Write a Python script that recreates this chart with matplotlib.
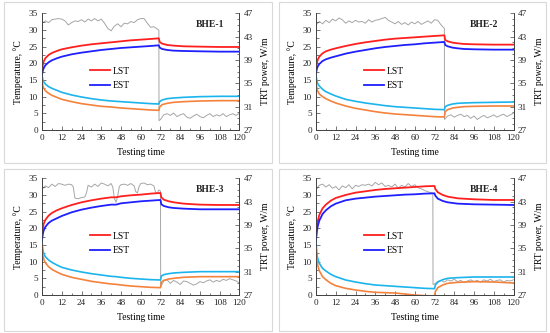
import matplotlib
matplotlib.use("Agg")
import matplotlib.pyplot as plt
from matplotlib.patches import Rectangle
from matplotlib.ticker import MultipleLocator

plt.rcParams['font.family'] = ['Liberation Serif', 'DejaVu Serif']

# ---------------- data ----------------
panel_names = ["BHE-1", "BHE-2", "BHE-3", "BHE-4"]
x_ticks = [0, 12, 24, 36, 48, 60, 72, 84, 96, 108, 120]
power_ticks = [27, 31, 35, 39, 43, 47]

# Panel 1
t_1 = [0, 0.5, 1, 2, 4, 6, 9, 12, 18, 24, 30, 36, 42, 48, 54, 60, 66, 71, 71.5, 73, 76, 80, 86, 96, 108, 120]
lst_1 = [17.0, 19.5, 20.5, 21.5, 22.5, 23.1, 23.7, 24.2, 24.8, 25.3, 25.7, 26.0, 26.3, 26.6, 26.9, 27.1, 27.3, 27.5, 26.4, 25.9, 25.5, 25.3, 25.1, 25.0, 24.9, 24.9]
est_1 = [16.5, 17.8, 18.5, 19.4, 20.3, 20.9, 21.5, 22.0, 22.7, 23.2, 23.6, 24.0, 24.3, 24.6, 24.8, 25.0, 25.2, 25.4, 24.7, 24.3, 24.0, 23.8, 23.7, 23.6, 23.5, 23.5]
cool_est_1 = [16.5, 15.0, 14.5, 13.8, 13.0, 12.5, 11.9, 11.3, 10.5, 9.9, 9.4, 9.0, 8.7, 8.5, 8.3, 8.1, 7.9, 7.8, 8.5, 9.0, 9.4, 9.6, 9.8, 10.0, 10.1, 10.1]
cool_lst_1 = [15.0, 13.3, 12.6, 11.8, 11.0, 10.4, 9.8, 9.2, 8.5, 7.9, 7.5, 7.1, 6.9, 6.6, 6.4, 6.2, 6.0, 5.9, 6.9, 7.6, 8.0, 8.3, 8.5, 8.7, 8.8, 8.8]
pw_t_1 = [0, 2, 4, 6, 8, 10, 12, 14, 16, 18, 20, 22, 24, 26, 28, 30, 32, 34, 36, 38, 40, 42, 44, 46, 48, 50,
          52, 54, 56, 58, 60, 62, 64, 66, 68, 70, 71, 71.1, 72, 74, 76, 78, 80, 82, 84, 86, 88, 90, 92, 94, 96,
          98, 100, 102, 104, 106, 108, 110, 112, 114, 116, 118, 120]
pw_1 = [45.3, 45.7, 45.4, 45.9, 46.0, 46.1, 46.0, 45.7, 45.0, 45.4, 45.7, 45.6, 45.9, 45.5, 46.0, 45.7, 46.1, 45.7,
        46.0, 45.3, 44.4, 44.0, 44.8, 45.2, 44.7, 45.3, 45.2, 45.6, 45.4, 45.9, 46.1, 46.1, 45.3, 44.6, 44.7, 44.3, 44.1,
        28.6, 28.8, 29.6, 29.8, 29.5, 29.9, 29.3, 29.6, 29.8, 29.2, 29.0, 29.4, 29.7, 29.3, 29.1, 29.5, 29.8, 29.3,
        29.6, 29.4, 29.8, 29.3, 29.6, 29.8, 29.5, 29.9]

# Panel 2
t_2 = [0, 0.5, 1, 2, 4, 6, 9, 12, 18, 24, 30, 36, 42, 48, 54, 60, 66, 72, 78, 78.5, 80, 83, 86, 90, 96, 108, 120]
lst_2 = [17.5, 20.0, 21.0, 22.0, 23.0, 23.6, 24.1, 24.5, 25.2, 25.8, 26.3, 26.7, 27.1, 27.4, 27.6, 27.8, 28.0, 28.2, 28.4, 27.0, 26.6, 26.2, 26.0, 25.8, 25.7, 25.6, 25.6]
est_2 = [17.0, 18.3, 19.0, 19.8, 20.7, 21.2, 21.7, 22.1, 22.9, 23.5, 24.0, 24.5, 24.9, 25.2, 25.5, 25.7, 26.0, 26.2, 26.4, 25.5, 25.1, 24.7, 24.5, 24.3, 24.2, 24.1, 24.1]
cool_est_2 = [16.5, 14.8, 14.0, 13.2, 12.2, 11.5, 10.8, 10.2, 9.2, 8.6, 8.1, 7.7, 7.3, 7.0, 6.8, 6.6, 6.4, 6.2, 6.1, 7.0, 7.4, 7.8, 8.0, 8.1, 8.2, 8.3, 8.4]
cool_lst_2 = [14.5, 12.5, 11.7, 10.8, 10.0, 9.4, 8.7, 8.1, 7.2, 6.5, 6.0, 5.5, 5.1, 4.8, 4.6, 4.4, 4.2, 4.0, 3.9, 5.5, 6.1, 6.6, 6.8, 7.0, 7.1, 7.2, 7.2]
pw_t_2 = [0, 2, 4, 6, 8, 10, 12, 14, 16, 18, 20, 22, 24, 26, 28, 30, 32, 34, 36, 38, 40, 42, 44, 46, 48, 50,
          52, 54, 56, 58, 60, 62, 64, 66, 68, 70, 72, 74, 76, 78, 78.1, 80, 82, 84, 86, 88, 90, 92, 94, 96,
          98, 100, 102, 104, 106, 108, 110, 112, 114, 116, 118, 120]
pw_2 = [45.0, 45.6, 45.2, 45.8, 45.4, 46.0, 45.7, 46.2, 45.9, 45.3, 45.7, 45.4, 45.8, 45.5, 45.6, 45.3, 45.9, 45.5,
        45.8, 45.9, 46.1, 46.3, 45.8, 45.5, 45.2, 45.6, 45.1, 45.4, 45.0, 45.5, 45.2, 45.6, 45.1, 45.4, 45.7, 45.3,
        45.9, 45.8, 45.0, 44.4,
        28.8, 29.4, 29.6, 29.2, 29.5, 29.7, 29.3, 29.5, 29.0, 29.4, 28.8, 29.2, 29.5, 29.1, 29.3, 29.6, 29.2, 29.5,
        29.7, 29.3, 29.6, 29.9]

# Panel 3
t_3 = [0, 0.5, 1, 2, 4, 6, 9, 12, 18, 24, 30, 36, 42, 45, 48, 54, 60, 66, 72, 72.5, 74, 77, 80, 86, 96, 108, 120]
lst_3 = [17.0, 20.0, 21.3, 22.5, 23.8, 24.6, 25.4, 26.0, 27.0, 27.8, 28.4, 28.9, 29.3, 29.3, 29.6, 29.9, 30.1, 30.4, 30.6, 29.3, 28.6, 28.1, 27.8, 27.4, 27.1, 27.0, 27.0]
est_3 = [16.5, 18.3, 19.3, 20.4, 21.6, 22.3, 23.0, 23.7, 24.8, 25.6, 26.2, 26.7, 27.1, 27.1, 27.5, 27.8, 28.1, 28.3, 28.5, 27.2, 26.7, 26.3, 26.1, 25.9, 25.7, 25.7, 25.7]
cool_est_3 = [16.0, 13.5, 12.5, 11.5, 10.5, 9.8, 9.0, 8.3, 7.5, 6.9, 6.4, 6.0, 5.6, 5.5, 5.3, 5.0, 4.8, 4.6, 4.5, 5.7, 6.1, 6.4, 6.6, 6.8, 7.0, 7.0, 7.0]
cool_lst_3 = [15.0, 12.0, 10.8, 9.7, 8.5, 7.7, 6.9, 6.2, 5.3, 4.7, 4.1, 3.7, 3.3, 3.2, 3.0, 2.7, 2.5, 2.3, 2.2, 3.8, 4.4, 4.8, 5.0, 5.3, 5.5, 5.5, 5.5]
pw_t_3 = [0, 2, 4, 6, 8, 10, 12, 14, 16, 18, 19, 20, 22, 24, 26, 27, 28, 30, 32, 34, 36, 38, 40, 42, 43, 44,
          45, 46, 47, 48, 50, 52, 54, 56, 57, 58, 59, 60, 62, 64, 66, 68, 69, 70, 71, 72,
          72.1, 74, 76, 78, 80, 82, 84, 86, 88, 90, 92, 94, 96, 98, 100, 102, 104, 106, 108, 110, 112, 114,
          116, 118, 120]
pw_3 = [45.1, 45.7, 45.4, 46.0, 45.6, 46.1, 46.0, 45.8, 46.0, 45.9, 45.5, 43.6, 43.5, 43.7, 43.8, 44.5, 45.8,
        45.5, 46.0, 45.6, 46.2, 46.0, 45.7, 46.1, 45.5, 43.5, 42.9, 44.0, 45.6, 45.9, 46.0, 45.8, 46.1, 45.7,
        44.7, 44.5, 45.6, 46.1, 46.2, 45.9, 46.0, 45.7, 44.6, 44.4, 45.0, 44.8,
        28.4, 29.4, 29.6, 29.0, 29.5, 29.2, 28.8, 29.4, 29.3, 29.0, 28.7, 28.9, 29.3, 29.1, 29.4, 29.6, 29.2,
        29.5, 29.3, 29.7, 29.5, 29.8, 29.6, 29.4, 29.0]

# Panel 4
t_4 = [0, 0.5, 1, 2, 4, 6, 9, 12, 18, 24, 30, 36, 42, 48, 54, 60, 66, 72, 72.5, 74, 77, 80, 86, 96, 108, 120]
lst_4 = [17.0, 20.5, 22.0, 24.0, 26.0, 27.1, 28.3, 29.1, 30.0, 30.7, 31.1, 31.5, 31.8, 32.0, 32.2, 32.4, 32.6, 32.7, 31.8, 30.8, 30.0, 29.5, 29.0, 28.7, 28.5, 28.5]
est_4 = [16.5, 19.0, 20.5, 22.3, 24.3, 25.4, 26.6, 27.4, 28.4, 28.9, 29.2, 29.5, 29.7, 29.9, 30.1, 30.2, 30.4, 30.5, 29.8, 28.9, 28.2, 27.8, 27.4, 27.2, 27.1, 27.0]
cool_est_4 = [16.0, 12.5, 11.0, 9.5, 8.0, 7.2, 6.2, 5.5, 4.5, 3.9, 3.4, 3.0, 2.8, 2.6, 2.4, 2.2, 2.0, 1.9, 3.0, 3.9, 4.6, 5.0, 5.2, 5.4, 5.4, 5.4]
cool_lst_4 = [14.0, 10.5, 9.0, 7.3, 5.5, 4.6, 3.5, 2.8, 2.0, 1.5, 1.1, 0.8, 0.7, 0.6, 0.3, 0.0, -0.2, -0.3, 1.0, 2.2, 3.0, 3.5, 3.8, 4.0, 3.9, 3.6]
pw_t_4 = [0, 2, 4, 6, 8, 10, 12, 14, 16, 18, 20, 22, 24, 26, 28, 30, 32, 34, 36, 38, 40, 42, 44, 46, 48, 50,
          52, 54, 56, 58, 60, 62, 64, 66, 68, 70, 71, 71.1, 72, 74, 76, 78, 80, 82, 84, 86, 88, 90, 92, 94, 96,
          98, 100, 102, 104, 106, 108, 110, 112, 114, 116, 118, 120]
pw_4 = [45.0, 45.8, 46.0, 45.5, 45.9, 45.3, 45.6, 45.0, 45.7, 45.4, 45.9, 45.2, 45.8, 45.6, 45.9, 45.8, 46.0, 45.7,
        46.3, 45.9, 46.2, 45.6, 45.8, 45.5, 46.0, 45.3, 45.8, 45.5, 46.1, 45.6, 45.9, 45.4, 45.2, 44.9, 44.7, 44.5, 44.4,
        28.8, 28.9, 29.3, 29.5, 29.2, 29.6, 29.4, 29.7, 29.3, 29.5, 29.1, 29.4, 29.6, 29.3, 29.5, 29.2, 29.6, 29.4,
        29.7, 29.3, 29.5, 29.6, 29.2, 29.5, 29.4, 29.6]

panels = [
    (t_1, lst_1, est_1, cool_est_1, cool_lst_1, pw_t_1, pw_1),
    (t_2, lst_2, est_2, cool_est_2, cool_lst_2, pw_t_2, pw_2),
    (t_3, lst_3, est_3, cool_est_3, cool_lst_3, pw_t_3, pw_3),
    (t_4, lst_4, est_4, cool_est_4, cool_lst_4, pw_t_4, pw_4),
]

# ---------------- figure ----------------
W, H = 550, 333
fig = plt.figure(figsize=(W / 100, H / 100), dpi=100)

# panel frames (pixel boxes)
frames = [(4, 2, 268, 161), (279, 2, 267, 161), (4, 169, 268, 162), (279, 169, 267, 162)]
for (fx, fy, fw, fh) in frames:
    fig.patches.append(Rectangle((fx / W, 1 - (fy + fh) / H), fw / W, fh / H,
                                 transform=fig.transFigure, fill=False,
                                 edgecolor='#d9d9d9', linewidth=0.8))

# axes pixel boxes: left, top, right, bottom
axboxes = [(42, 13.3, 239.5, 130), (316, 13.3, 513.5, 130),
           (42, 178.3, 239.5, 295), (316, 178.3, 513.5, 295)]

FS = 6.6
RED = '#ff1f1f'
BLUE = '#1f1fff'
CYAN = '#1cb4ec'
ORANGE = '#f4823c'
GRAY = '#a6a6a6'

for i, (t, lst, est, cest, clst, pt, pw) in enumerate(panels):
    l, tp, r, b = axboxes[i]
    ax = fig.add_axes([l / W, 1 - b / H, (r - l) / W, (b - tp) / H])
    ax2 = ax.twinx()
    ax.set_zorder(ax2.get_zorder() + 1)
    ax.patch.set_visible(False)

    ax2.plot(pt, pw, color=GRAY, lw=0.7)
    ax.plot(t, cest, color=CYAN, lw=1.2)
    ax.plot(t, clst, color=ORANGE, lw=1.2)
    ax.plot(t, lst, color=RED, lw=1.3, label='LST')
    ax.plot(t, est, color=BLUE, lw=1.3, label='EST')

    ax.set_xlim(0, 120)
    ax.set_ylim(0, 35)
    ax2.set_ylim(27, 47)
    ax.set_xticks(x_ticks)
    ax.xaxis.set_minor_locator(MultipleLocator(6))
    ax.yaxis.set_major_locator(MultipleLocator(5))
    ax.yaxis.set_minor_locator(MultipleLocator(2.5))
    ax2.set_yticks(power_ticks)
    ax2.yaxis.set_minor_locator(MultipleLocator(1))

    for a in (ax, ax2):
        a.spines['top'].set_visible(False)
        for s in a.spines.values():
            s.set_linewidth(0.6)
            s.set_color('#404040')
        a.tick_params(which='both', direction='in', labelsize=FS, width=0.5, colors='#404040',
                      labelcolor='#222222', pad=3)
        a.tick_params(which='major', length=3)
        a.tick_params(which='minor', length=1.8)
    ax.tick_params(axis='y', which='both', right=False)
    ax2.tick_params(axis='y', which='both', left=False)

    ax.set_xlabel('Testing time', fontsize=FS + 0.3, labelpad=4)
    ax.set_ylabel('Temperature, °C', fontsize=FS + 0.3, labelpad=4)
    ax2.set_ylabel('TRT power, W/m', fontsize=FS + 0.3, labelpad=6)

    ax.text(0.853, 0.905, panel_names[i], transform=ax.transAxes, fontsize=FS + 0.3,
            fontweight='bold', ha='center', va='center', color='#222222')

    ax.legend(loc='center left', bbox_to_anchor=(0.245, 0.443), frameon=False,
              fontsize=FS + 0.3, handlelength=2.0, handletextpad=0.35,
              labelspacing=0.55, borderpad=0, borderaxespad=0)

fig.savefig('out.png', dpi=100)
